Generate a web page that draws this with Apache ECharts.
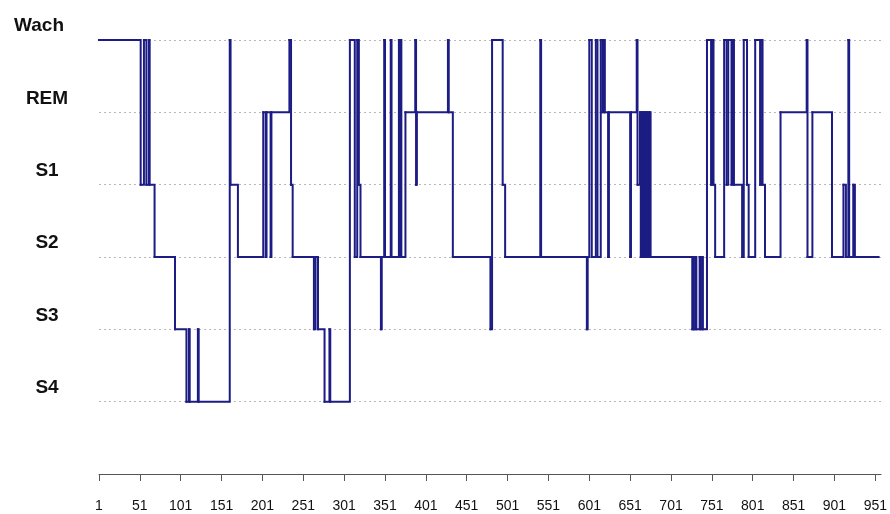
<!DOCTYPE html>
<html>
<head>
<meta charset="utf-8">
<script src="https://cdn.jsdelivr.net/npm/echarts@6/dist/echarts.min.js"></script>
<style>
html,body{margin:0;padding:0;background:#fff;}
#chart{width:890px;height:514px;}
</style>
</head>
<body>
<div id="chart"></div>
<script>
// Stage levels from bottom (0 = baseline) to top
const stageLabels = ['', 'S4', 'S3', 'S2', 'S1', 'REM', 'Wach'];
// x-axis tick labels (epoch numbers)
const tickLabels = [1, 51, 101, 151, 201, 251, 301, 351, 401, 451, 501, 551, 601, 651, 701, 751, 801, 851, 901, 951];
// Epochs where the sleep stage changes, and the stage that starts there
const changeEpochs = [
  1, 52, 56, 59, 62, 63, 69, 94, 108, 111, 112, 122, 123, 161, 162, 171,
  202, 205, 206, 211, 212, 234, 236, 238, 264, 266, 269, 277, 283, 284,
  308, 314, 317, 319, 321, 346, 347, 350, 351, 358, 359, 368, 369, 370, 371,
  376, 388, 389, 390, 428, 429, 434, 480, 482, 495, 498, 541, 542,
  598, 599, 601, 604, 609, 611, 615, 617, 619, 620, 624, 625, 651, 652,
  659, 660, 663, 664, 665, 666, 667, 668, 669, 670, 671, 672, 673, 674, 675, 676,
  727, 728, 729, 731, 732, 736, 737, 739, 740, 745, 750, 752, 753, 755,
  766, 769, 771, 775, 776, 778, 788, 790, 794, 796, 804, 810, 811, 813, 816,
  835, 867, 868, 874, 898, 912, 915, 918, 919, 924, 926, 955
];
const changeStages = [
  'Wach','S1','Wach','S1','Wach','S1','S2','S3','S4','S3','S4','S3','S4','Wach','S1','S2',
  'REM','S2','REM','S2','REM','Wach','S1','S2','S3','S2','S3','S4','S3','S4',
  'Wach','S2','Wach','S1','S2','S3','S2','Wach','S2','Wach','S2','Wach','S2','Wach','S2',
  'REM','Wach','S1','REM','Wach','REM','S2','S3','Wach','S1','S2','Wach','S2',
  'S3','S2','Wach','S2','Wach','S2','Wach','REM','Wach','REM','S2','REM','S2','REM',
  'Wach','S1','REM','S2','REM','S2','REM','S2','REM','S2','REM','S2','REM','S2','REM','S2',
  'S3','S2','S3','S2','S3','S2','S3','S2','S3','Wach','S1','Wach','S1','S2',
  'Wach','S1','Wach','S1','Wach','S1','S2','Wach','S1','S2','Wach','S1','Wach','S1','S2',
  'REM','Wach','S2','REM','S2','S1','S2','Wach','S2','S1','S2','S2'
];

// Each item: [start epoch, end epoch, stage level, next stage level]
const segments = [];
for (let i = 0; i < changeEpochs.length - 1; i++) {
  segments.push([
    changeEpochs[i], changeEpochs[i + 1],
    stageLabels.indexOf(changeStages[i]), stageLabels.indexOf(changeStages[i + 1])
  ]);
}

const LINE_COLOR = '#1c1c84';

const chart = echarts.init(document.getElementById('chart'), null, {renderer: 'canvas'});
chart.setOption({
  animation: false,
  backgroundColor: '#ffffff',
  grid: {left: 99, right: 7, top: 40, bottom: 40, containLabel: false},
  xAxis: {
    type: 'value',
    min: 1,
    max: 958,
    axisLine: {show: true, lineStyle: {color: '#555555', width: 1}},
    axisTick: {show: true, customValues: tickLabels, length: 7, inside: false, lineStyle: {color: '#555555'}},
    axisLabel: {
      customValues: tickLabels,
      margin: 25,
      fontFamily: '"Liberation Sans", Arial, sans-serif',
      fontSize: 14,
      color: '#111111'
    },
    splitLine: {show: false}
  },
  yAxis: {
    type: 'value',
    min: 0,
    max: 6,
    interval: 1,
    axisLine: {show: false},
    axisTick: {show: false},
    axisLabel: {
      margin: 52,
      align: 'center',
      verticalAlign: 'middle',
      padding: [0, 0, 28, 0],
      fontFamily: '"Liberation Sans", Arial, sans-serif',
      fontWeight: 'bold',
      fontSize: 19,
      color: '#111111',
      formatter: function (v) {
        const name = stageLabels[v] || '';
        return name === 'Wach' ? '{w|' + name + '}' : name;
      },
      rich: {
        w: {
          fontFamily: '"Liberation Sans", Arial, sans-serif',
          fontWeight: 'bold',
          fontSize: 19,
          color: '#111111',
          padding: [0, 16, 0, 0]
        }
      }
    },
    splitLine: {show: true, lineStyle: {color: '#b8b8b8', width: 1, type: [2, 3]}}
  },
  series: [{
    type: 'custom',
    data: segments,
    encode: {x: [0, 1], y: [2, 3]},
    renderItem: function (params, api) {
      const x0 = api.value(0), x1 = api.value(1);
      const y0 = api.value(2), y1 = api.value(3);
      const p0 = api.coord([x0, y0]);
      const p1 = api.coord([x1, y0]);
      const p2 = api.coord([x1, y1]);
      return {
        type: 'polyline',
        shape: {points: [p0, p1, p2]},
        style: {stroke: LINE_COLOR, lineWidth: 2, fill: null, lineJoin: 'miter', lineCap: 'square'}
      };
    }
  }]
});
</script>
</body>
</html>
